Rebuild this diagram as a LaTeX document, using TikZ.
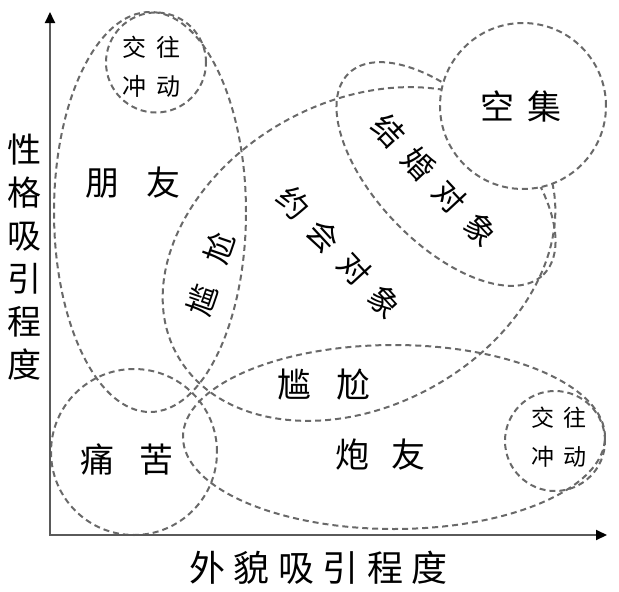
\documentclass[tikz,border=0pt]{standalone}
\usepackage{fontspec}
\newfontfamily\cjk{Noto Sans CJK SC}
\usetikzlibrary{arrows.meta}
\definecolor{dashgray}{RGB}{105,105,105}
\definecolor{axisgray}{RGB}{90,90,90}
\begin{document}
\begin{tikzpicture}[x=1pt,y=1pt,
  region/.style={draw=dashgray, line width=2pt, dash pattern=on 6pt off 4pt},
  axisline/.style={draw=axisgray, line width=2pt,
    {Triangle[length=11pt,width=10pt,color=black]}-{Triangle[length=11pt,width=10pt,color=black]}},
  big/.style={font=\cjk\fontsize{34pt}{43pt}\selectfont, inner sep=0pt, align=center},
  mid/.style={font=\cjk\fontsize{31pt}{36pt}\selectfont, inner sep=0pt},
  small/.style={font=\cjk\fontsize{24pt}{39pt}\selectfont, inner sep=0pt, align=center}]
\useasboundingbox (0,0) rectangle (619,-592);

% regions
\draw[region] (150,-212) ellipse [x radius=96pt, y radius=200pt];
\draw[region] (156,-62.5) circle [radius=50pt];
\draw[region] (134,-452) circle [radius=83pt];
\draw[region] (394,-437) ellipse [x radius=211pt, y radius=92pt];
\draw[region] (555,-441) circle [radius=50pt];
\draw[region, rotate around={29:(359,-254)}] (359,-254) ellipse [x radius=208pt, y radius=152pt];
\draw[region, rotate around={-46:(446,-174)}] (446,-174) ellipse [x radius=140pt, y radius=70pt];
\draw[region, fill=white] (523,-106) circle [radius=83pt];

% axes
\coordinate (ytop) at (50,-12);
\coordinate (O) at (50,-535);
\coordinate (xend) at (607,-535);
\draw[axisline] (ytop) -- (O) -- (xend);

% labels
\node[big] (ytitle) at (25,-257.5) {性\\格\\吸\\引\\程\\度};
\node[big, font=\cjk\fontsize{36pt}{43pt}\selectfont] (xtitle) at (318.5,-568)
  {外\hspace{8.6pt}貌\hspace{8.6pt}吸\hspace{8.6pt}引\hspace{8.6pt}程\hspace{8.6pt}度};
\node[small] (jw1) at (151.5,-66.5) {交\hspace{10pt}往\\冲\hspace{10pt}动};
\node[big] (pengyou) at (133,-183) {朋\hspace{27pt}友};
\node[mid, rotate=71] (ganga1) at (211,-274) {尴\hspace{23pt}尬};
\node[mid, rotate=-47.3] (yuehui) at (339,-252) {约\hspace{14pt}会\hspace{14pt}对\hspace{14pt}象};
\node[mid, rotate=-47] (jiehun) at (434.5,-180) {结\hspace{14pt}婚\hspace{14pt}对\hspace{14pt}象};
\node[big] (kongji) at (521,-106) {空\hspace{14pt}集};
\node[big] (ganga2) at (324,-385) {尴\hspace{25pt}尬};
\node[big] (tongku) at (127,-459) {痛\hspace{26pt}苦};
\node[big] (paoyou) at (380,-455) {炮\hspace{22pt}友};
\node[small, font=\cjk\fontsize{23pt}{39pt}\selectfont] (jw2) at (559,-437.5) {交\hspace{9pt}往\\冲\hspace{9pt}动};
\end{tikzpicture}
\end{document}
